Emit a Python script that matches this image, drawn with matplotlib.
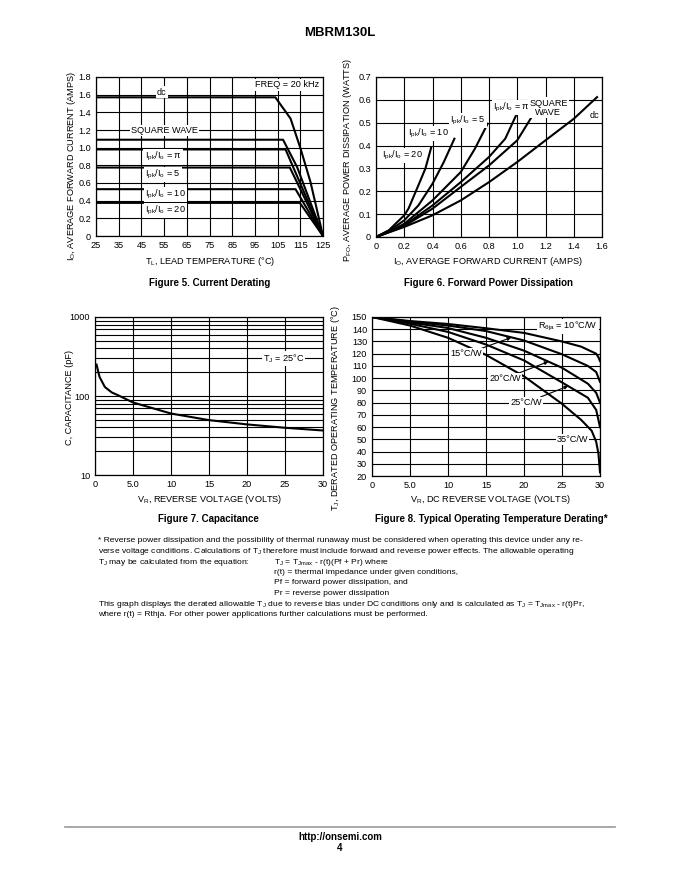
import numpy as np
import matplotlib.pyplot as plt
import matplotlib.ticker as tk

plt.rcParams['font.family'] = ['Liberation Sans', 'DejaVu Sans']
plt.rcParams['mathtext.default'] = 'regular'

'''Figure 5: current derating'''
f5_t_dc = [25, 104, 110.7, 115.1, 119.5, 125]
f5_i_dc = [1.57, 1.57, 1.33, 0.99, 0.61, 0]
f5_t_sq = [25, 107.4, 113.6, 125]
f5_i_sq = [1.09, 1.09, 0.78, 0]
f5_t_pi = [25, 108.5, 125]
f5_i_pi = [0.98, 0.98, 0]
f5_t_5 = [25, 110.4, 125]
f5_i_5 = [0.775, 0.775, 0]
f5_t_10 = [25, 112.9, 125]
f5_i_10 = [0.53, 0.53, 0]
f5_t_20 = [25, 114.8, 125]
f5_i_20 = [0.375, 0.375, 0]
f5_xticks = [25, 35, 45, 55, 65, 75, 85, 95, 105, 115, 125]
f5_yticks = [0, 0.2, 0.4, 0.6, 0.8, 1.0, 1.2, 1.4, 1.6, 1.8]

'''Figure 6: forward power dissipation'''
f6_a_20 = [0, 0.09, 0.2, 0.23, 0.30, 0.35, 0.39]
f6_p_20 = [0, 0.029, 0.095, 0.124, 0.226, 0.30, 0.39]
f6_a_10 = [0, 0.1, 0.2, 0.3, 0.4, 0.48, 0.555]
f6_p_10 = [0, 0.03, 0.073, 0.138, 0.233, 0.328, 0.43]
f6_a_5 = [0, 0.1, 0.2, 0.4, 0.6, 0.7, 0.79]
f6_p_5 = [0, 0.025, 0.058, 0.16, 0.284, 0.386, 0.495]
f6_a_pi = [0, 0.2, 0.4, 0.6, 0.8, 0.915, 0.99]
f6_p_pi = [0, 0.051, 0.138, 0.24, 0.35, 0.43, 0.53]
f6_a_sq = [0, 0.2, 0.4, 0.6, 0.8, 1.0, 1.105]
f6_p_sq = [0, 0.048, 0.124, 0.219, 0.313, 0.423, 0.528]
f6_a_dc = [0, 0.2, 0.4, 0.6, 0.8, 1.0, 1.2, 1.4, 1.565]
f6_p_dc = [0, 0.044, 0.095, 0.16, 0.24, 0.328, 0.423, 0.517, 0.612]
f6_xticks = [0, 0.2, 0.4, 0.6, 0.8, 1.0, 1.2, 1.4, 1.6]
f6_yticks = [0, 0.1, 0.2, 0.3, 0.4, 0.5, 0.6, 0.7]

'''Figure 7: capacitance'''
f7_v = [0.2, 0.6, 1.3, 2.2, 3, 5, 10, 15, 20, 25, 30]
f7_c = [250, 174, 130, 111, 102.6, 82.8, 60, 49.5, 43.7, 39.6, 36.6]
f7_xticks = [0, 5, 10, 15, 20, 25, 30]
f7_xlabels = ['0', '5.0', '10', '15', '20', '25', '30']

'''Figure 8: operating temperature derating'''
f8_v_10 = [0, 5, 10, 15, 20, 25, 27.5, 29.5, 29.8, 30]
f8_t_10 = [150, 146.7, 144.3, 140.8, 137, 130, 125.8, 120, 117, 114]
f8_v_15 = [0, 5, 10, 15, 20, 25, 28.4, 29.5, 30]
f8_t_15 = [150, 146.2, 143, 138.5, 130.8, 119.5, 110, 105, 97]
f8_v_20 = [0, 5, 10, 15, 20, 25, 28.4, 29.5, 30]
f8_t_20 = [150, 145.5, 141, 133, 122.5, 108.5, 95.5, 88, 80]
f8_v_25 = [0, 5, 10, 15, 20, 25, 28.4, 29.5, 30]
f8_t_25 = [150, 144.5, 137.8, 127.5, 114.5, 96.5, 84, 74, 60]
f8_v_35 = [0, 5, 10, 15, 20, 25, 27.5, 28.9, 29.5, 29.8, 30]
f8_t_35 = [150, 143, 133, 119, 101.5, 79, 66, 57, 48, 38, 23]
f8_xticks = [0, 5, 10, 15, 20, 25, 30]
f8_xlabels = ['0', '5.0', '10', '15', '20', '25', '30']
f8_yticks = list(range(20, 151, 10))

fs = 6.6
cap = 7.0
lw = 1.5
box = dict(facecolor='white', edgecolor='none', pad=0.8)

fig = plt.figure(figsize=(6.8, 8.8), dpi=100)


def px_axes(l, t, r, b):
    return fig.add_axes([l / 680, 1 - b / 880, (r - l) / 680, (b - t) / 880])


def style(ax):
    ax.grid(True, which='both', color='k', lw=0.8)
    ax.set_axisbelow(True)
    ax.tick_params(which='both', length=0, labelsize=fs, pad=3.5)
    for s in ax.spines.values():
        s.set_linewidth(0.9)


# ---- Figure 5
ax = px_axes(96, 77, 323, 236)
ax.plot(f5_t_dc, f5_i_dc, 'k', lw=lw)
ax.plot(f5_t_sq, f5_i_sq, 'k', lw=lw)
ax.plot(f5_t_pi, f5_i_pi, 'k', lw=lw)
ax.plot(f5_t_5, f5_i_5, 'k', lw=lw)
ax.plot(f5_t_10, f5_i_10, 'k', lw=lw)
ax.plot(f5_t_20, f5_i_20, 'k', lw=lw)
ax.set_xlim(25, 125)
ax.set_ylim(0, 1.8)
ax.set_xticks(f5_xticks)
ax.set_yticks(f5_yticks)
ax.set_yticklabels(['0'] + ['%.1f' % v for v in f5_yticks[1:]])
style(ax)
ax.text(54, 1.63, 'dc', ha='center', va='center', fontsize=fs, bbox=box)
ax.text(123.5, 1.71, 'FREQ = 20 kHz', ha='right', va='center', fontsize=fs, bbox=box)
ax.text(55.3, 1.19, 'SQUARE WAVE', ha='center', va='center', fontsize=fs, bbox=box)
ax.text(54.5, 0.895, r'I$_{pk}$/I$_o$ = $\pi$', ha='center', va='center', fontsize=fs, bbox=box)
ax.text(54.5, 0.695, r'I$_{pk}$/I$_o$ = 5', ha='center', va='center', fontsize=fs, bbox=box)
ax.text(55.5, 0.47, r'I$_{pk}$/I$_o$ = 10', ha='center', va='center', fontsize=fs, bbox=box)
ax.text(55.5, 0.29, r'I$_{pk}$/I$_o$ = 20', ha='center', va='center', fontsize=fs, bbox=box)
fig.text(210 / 680, 1 - 262 / 880, r'T$_L$, LEAD TEMPERATURE (°C)', ha='center', va='center', fontsize=fs)
fig.text(72 / 680, 1 - 166 / 880, r'I$_O$, AVERAGE FORWARD CURRENT (AMPS)', ha='center', va='center',
         rotation=90, fontsize=fs)
fig.text(210 / 680, 1 - 283 / 880, 'Figure 5. Current Derating', ha='center', va='center',
         fontsize=cap, weight='bold')

# ---- Figure 6
ax = px_axes(376, 77, 602, 237)
ax.plot(f6_a_20, f6_p_20, 'k', lw=lw)
ax.plot(f6_a_10, f6_p_10, 'k', lw=lw)
ax.plot(f6_a_5, f6_p_5, 'k', lw=lw)
ax.plot(f6_a_pi, f6_p_pi, 'k', lw=lw)
ax.plot(f6_a_sq, f6_p_sq, 'k', lw=lw)
ax.plot(f6_a_dc, f6_p_dc, 'k', lw=lw)
ax.set_xlim(0, 1.6)
ax.set_ylim(0, 0.7)
ax.set_xticks(f6_xticks)
ax.set_xticklabels(['0'] + ['%.1f' % v for v in f6_xticks[1:]])
ax.set_yticks(f6_yticks)
ax.set_yticklabels(['0'] + ['%.1f' % v for v in f6_yticks[1:]])
style(ax)
ax.text(0.185, 0.357, r'I$_{pk}$/I$_o$ = 20', ha='center', va='center', fontsize=fs, bbox=box)
ax.text(0.37, 0.452, r'I$_{pk}$/I$_o$ = 10', ha='center', va='center', fontsize=fs, bbox=box)
ax.text(0.65, 0.51, r'I$_{pk}$/I$_o$ = 5', ha='center', va='center', fontsize=fs, bbox=box)
ax.text(0.96, 0.568, r'I$_{pk}$/I$_o$ = $\pi$', ha='center', va='center', fontsize=fs, bbox=box)
ax.text(1.22, 0.565, 'SQUARE\nWAVE', ha='center', va='center', fontsize=fs, bbox=box,
        linespacing=1.1)
ax.text(1.55, 0.53, 'dc', ha='center', va='center', fontsize=fs, bbox=box)
fig.text(488 / 680, 1 - 262 / 880, r'I$_O$, AVERAGE FORWARD CURRENT (AMPS)', ha='center', va='center', fontsize=fs)
fig.text(347 / 680, 1 - 160 / 880, r'P$_{FO}$, AVERAGE POWER DISSIPATION (WATTS)', ha='center', va='center',
         rotation=90, fontsize=fs)
fig.text(488 / 680, 1 - 283 / 880, 'Figure 6. Forward Power Dissipation', ha='center', va='center',
         fontsize=cap, weight='bold')

# ---- Figure 7
ax = px_axes(95, 317, 323, 475)
ax.plot(f7_v, f7_c, 'k', lw=lw)
ax.set_yscale('log')
ax.set_xlim(0, 30)
ax.set_ylim(10, 1000)
ax.set_xticks(f7_xticks)
ax.set_xticklabels(f7_xlabels)
ax.set_yticks([10, 100, 1000])
ax.set_yticklabels(['10', '100', '1000'])
ax.yaxis.set_minor_locator(tk.LogLocator(subs=range(2, 10)))
ax.yaxis.set_minor_formatter(tk.NullFormatter())
style(ax)
ax.text(24.8, 300, r'T$_J$ = 25°C', ha='center', va='center', fontsize=fs, bbox=box)
fig.text(210 / 680, 1 - 499 / 880, r'V$_R$, REVERSE VOLTAGE (VOLTS)', ha='center', va='center', fontsize=fs)
fig.text(69 / 680, 1 - 397 / 880, 'C, CAPACITANCE (pF)', ha='center', va='center',
         rotation=90, fontsize=fs)
fig.text(208 / 680, 1 - 519 / 880, 'Figure 7. Capacitance', ha='center', va='center',
         fontsize=cap, weight='bold')

# ---- Figure 8
ax = px_axes(372, 317, 600, 476)
ax.plot(f8_v_10, f8_t_10, 'k', lw=lw)
ax.plot(f8_v_15, f8_t_15, 'k', lw=lw)
ax.plot(f8_v_20, f8_t_20, 'k', lw=lw)
ax.plot(f8_v_25, f8_t_25, 'k', lw=lw)
ax.plot(f8_v_35, f8_t_35, 'k', lw=lw)
ax.set_xlim(0, 30)
ax.set_ylim(20, 150)
ax.set_xticks(f8_xticks)
ax.set_xticklabels(f8_xlabels)
ax.set_yticks(f8_yticks)
style(ax)
arr = dict(arrowstyle='-|>', lw=0.8, color='k', mutation_scale=5, shrinkA=0, shrinkB=0)
ax.text(25.8, 142.3, r'R$_{\theta ja}$ = 10°C/W', ha='center', va='center', fontsize=fs, bbox=box)
ax.annotate('15°C/W', xy=(18.3, 133.2), xytext=(12.4, 119.8), ha='center', va='center',
            fontsize=fs, bbox=box, arrowprops=arr)
ax.annotate('20°C/W', xy=(23.2, 113.5), xytext=(17.5, 99.8), ha='center', va='center',
            fontsize=fs, bbox=box, arrowprops=arr)
ax.annotate('25°C/W', xy=(25.8, 93.5), xytext=(20.3, 80), ha='center', va='center',
            fontsize=fs, bbox=box, arrowprops=arr)
ax.text(26.4, 49.6, '35°C/W', ha='center', va='center', fontsize=fs, bbox=box)
fig.text(491 / 680, 1 - 499 / 880, r'V$_R$, DC REVERSE VOLTAGE (VOLTS)', ha='center', va='center', fontsize=fs)
fig.text(335 / 680, 1 - 408 / 880, r'T$_J$, DERATED OPERATING TEMPERATURE (°C)', ha='center', va='center',
         rotation=90, fontsize=fs)
fig.text(491 / 680, 1 - 519 / 880, 'Figure 8. Typical Operating Temperature Derating*', ha='center',
         va='center', fontsize=cap, weight='bold')

# ---- header / notes / footer
fig.text(0.5, 1 - 33 / 880, 'MBRM130L', ha='center', va='center', fontsize=9.5, weight='bold')

notes = [
    (98, 541, '* Reverse power dissipation and the possibility of thermal runaway must be considered when operating this device under any re-'),
    (98, 551.5, r'verse voltage conditions. Calculations of T$_J$ therefore must include forward and reverse power effects. The allowable operating'),
    (98, 562, r'T$_J$ may be calculated from the equation:'),
    (274, 562, r'T$_J$ = T$_{Jmax}$ - r(t)(Pf + Pr) where'),
    (274, 572.5, 'r(t) = thermal impedance under given conditions,'),
    (274, 583, 'Pf = forward power dissipation, and'),
    (274, 593.5, 'Pr = reverse power dissipation'),
    (98, 604, r'This graph displays the derated allowable T$_J$ due to reverse bias under DC conditions only and is calculated as T$_J$ = T$_{Jmax}$ - r(t)Pr,'),
    (98, 614.5, 'where r(t) = Rthja. For other power applications further calculations must be performed.'),
]
for x, y, s in notes:
    fig.text(x / 680, 1 - y / 880, s, ha='left', va='center', fontsize=6.1)

fig.add_artist(plt.Line2D([65 / 680, 615 / 680], [1 - 827 / 880] * 2, color='0.6', lw=1.2))
fig.text(0.5, 1 - 837 / 880, 'http://onsemi.com', ha='center', va='center', fontsize=7, weight='bold')
fig.text(0.5, 1 - 848 / 880, '4', ha='center', va='center', fontsize=7, weight='bold')

plt.savefig('out.png', dpi=100)
